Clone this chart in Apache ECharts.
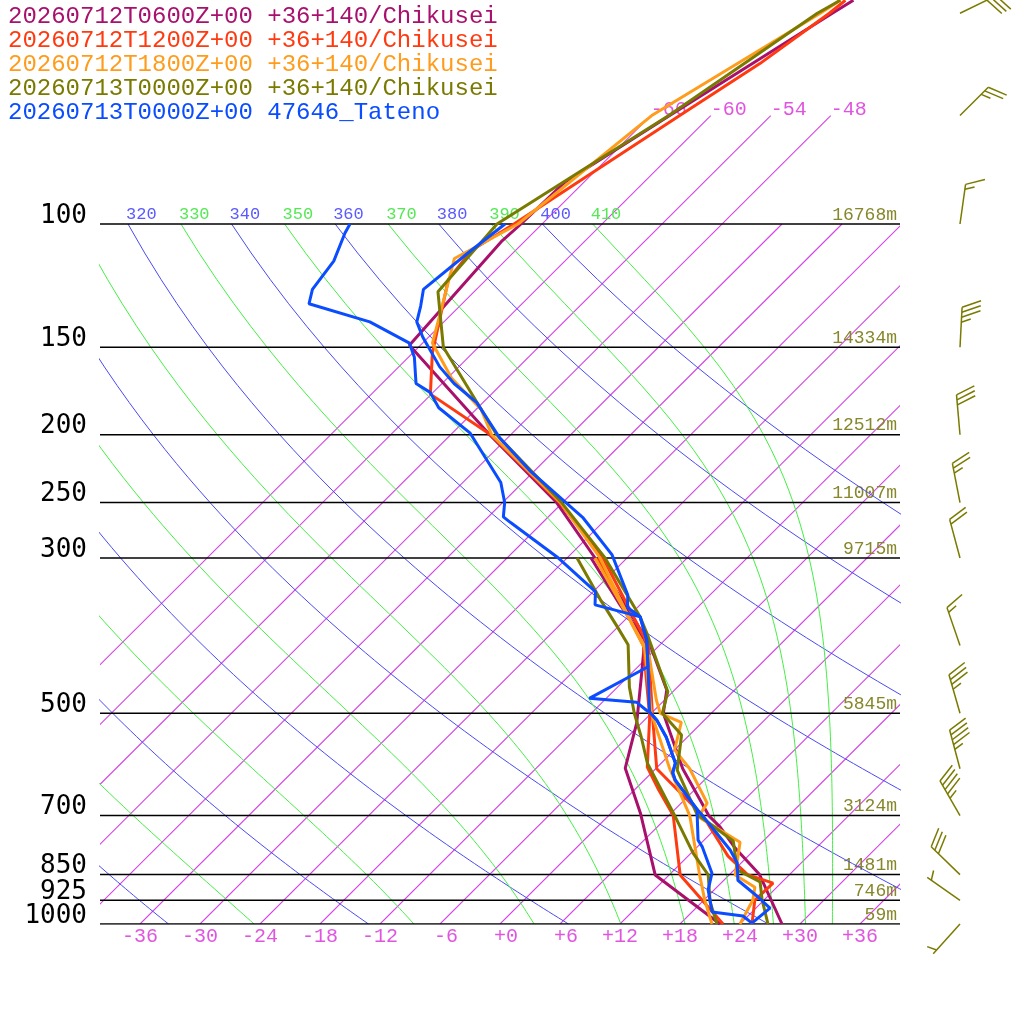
<!DOCTYPE html>
<html>
<head>
<meta charset="utf-8">
<script src="https://cdn.jsdelivr.net/npm/echarts@6/dist/echarts.min.js"></script>
<style>
html,body{margin:0;padding:0;background:#fff;}
#chart{width:1024px;height:1024px;}
</style>
</head>
<body>
<div id="chart"></div>
<script>
// legend lines and colours of the five soundings
var runNames = [
    '20260712T0600Z+00 +36+140/Chikusei',
    '20260712T1200Z+00 +36+140/Chikusei',
    '20260712T1800Z+00 +36+140/Chikusei',
    '20260713T0000Z+00 +36+140/Chikusei',
    '20260713T0000Z+00 47646_Tateno'
];
var runColors = ['#a8106c', '#ff3a10', '#ff9c1c', '#7a7a00', '#0a4cff'];

// 0600Z model: temperature / dew point (hPa, degC)
var m06P  = [1000, 850, 779, 727, 700, 600, 500, 463, 400, 350, 300, 250, 200, 149, 106, 100, 87, 70, 50, 47.9];
var m06T  = [28.2, 21.0, 15.9, 12.3, 10.0, 2.7, -4.8, -6.8, -12.9, -19.5, -27.2, -36.6, -50.1, -67.1, -68.3, -68.1, -67.9, -64.1, -58.1, -57.3];
var m06DP = [1000, 851, 694, 599, 516, 438, 393, 350, 300];
var m06D  = [22.0, 10.6, 2.9, -3.1, -6.5, -11.0, -14.0, -20.0, -27.6];

// 1200Z model
var m12P  = [1000, 925, 874, 850, 800, 700, 600, 500, 400, 300, 250, 200, 175, 153, 120, 109, 100, 70, 59, 50, 47.9];
var m12T  = [25.2, 23.1, 23.2, 19.8, 16.0, 9.4, 0.1, -5.9, -13.1, -26.4, -36.3, -50.0, -60.1, -64.0, -69.8, -70.4, -68.8, -63.1, -60.3, -58.4, -58.1];
var m12DP = [1000, 851, 699, 643, 597, 506, 400, 300];
var m12D  = [22.3, 13.1, 6.4, 2.4, -1.0, -5.8, -13.6, -26.9];

// 1800Z model
var m18P  = [1000, 925, 886, 851, 764, 703, 672, 600, 564, 515, 500, 479, 416, 376, 300, 250, 200, 184, 166, 148, 112, 100, 70, 50, 47.9];
var m18T  = [24.0, 22.9, 21.8, 18.6, 15.8, 9.1, 8.6, 3.4, 0.0, -2.1, -5.1, -6.8, -11.8, -16.5, -26.7, -36.2, -49.9, -53.5, -59.6, -65.0, -71.3, -68.4, -65.9, -59.3, -58.6];
var m18DP = [1000, 925, 850, 700, 600, 500, 400, 300];
var m18D  = [21.2, 18.1, 15.0, 8.1, 1.4, -6.0, -13.5, -27.2];

// 0000Z (13th) model
var m00P  = [1000, 924, 871, 837, 761, 697, 603, 537, 500, 466, 384, 364, 300, 250, 200, 150, 125, 100, 70, 50, 47.9];
var m00T  = [26.8, 23.8, 21.8, 18.3, 15.0, 8.7, 2.3, -0.8, -4.9, -6.5, -14.5, -16.8, -26.2, -36.1, -49.4, -63.5, -69.6, -70.5, -64.2, -59.6, -58.6];
var m00DP = [1000, 930, 851, 792, 694, 589, 541, 500, 459, 399, 376, 344, 300];
var m00D  = [21.7, 18.8, 15.9, 12.2, 6.2, -1.4, -4.6, -7.7, -10.8, -15.2, -18.1, -22.5, -29.0];

// Tateno observation
var tatP  = [997, 949, 915, 866, 818, 784, 694, 687, 623, 608, 589, 541, 511, 498, 429, 393, 364, 353, 339, 297, 263, 248, 225, 202, 180, 169, 160, 145, 138, 131, 124, 110, 100];
var tatT  = [25.1, 25.4, 23.1, 19.4, 17.6, 15.6, 8.9, 8.3, 3.1, 2.1, 1.4, -2.1, -4.8, -6.3, -11.0, -13.8, -16.8, -19.0, -20.2, -25.8, -32.4, -36.2, -42.5, -48.8, -54.6, -58.8, -61.9, -66.6, -68.7, -69.9, -71.3, -70.5, -69.7];
var tatDP = [997, 974, 961, 894, 846, 776, 759, 699, 687, 623, 608, 589, 541, 511, 498, 495, 482, 476, 429, 393, 364, 360, 350, 335, 299, 267, 262, 250, 234, 222, 199, 183, 174, 169, 155, 148, 138, 130, 124, 113, 103, 100];
var tatD  = [25.1, 23.5, 20.0, 17.4, 16.1, 12.5, 11.4, 8.8, 8.3, 3.1, 2.1, 1.4, -2.1, -4.8, -6.3, -6.8, -8.6, -13.7, -11.0, -13.8, -16.8, -18.4, -22.5, -23.8, -31.1, -39.2, -40.5, -41.8, -44.2, -46.8, -52.2, -57.9, -60.3, -62.6, -65.4, -67.3, -73.4, -81.3, -82.4, -83.1, -84.8, -85.2];

// wind barbs (direction deg, speed kt)
var windP   = [50, 70, 100, 150, 200, 250, 300, 400, 500, 600, 700, 850, 925, 1000];
var windDir = [64, 45, 8, 3, 355, 349, 345, 341, 344, 345, 330, 314, 305, 222];
var windKt  = [30, 25, 15, 35, 30, 25, 20, 15, 35, 45, 45, 30, 5, 5];

// isobars with heights
var isobarP      = [100, 150, 200, 250, 300, 500, 700, 850, 925, 1000];
var isobarLabels = ['100', '150', '200', '250', '300', '500', '700', '850', '925', '1000'];
var heightLabels = ['16768m', '14334m', '12512m', '11007m', '9715m', '5845m', '3124m', '1481m', '746m', '59m'];

// background lines
var isothermT   = [-66, -60, -54, -48, -42, -36, -30, -24, -18, -12, -6, 0, 6, 12, 18, 24, 30, 36];
var topIsoT     = [-66, -60, -54, -48];
var tempTicks   = [-36, -30, -24, -18, -12, -6, 0, 6, 12, 18, 24, 30, 36];
var tempLabels  = ['-36', '-30', '-24', '-18', '-12', '-6', '+0', '+6', '+12', '+18', '+24', '+30', '+36'];
var dryTheta    = [240, 260, 280, 300, 320, 340, 360, 380, 400];
var moistThetaE = [250, 270, 290, 310, 330, 350, 370, 390, 410];

var SKEW = 70.2;
var PTOP = 1000 / Math.pow(10, 924 / 700);

function sx(t, p) { return t + SKEW * Math.log10(1000 / p); }

function esat(t) { return 6.112 * Math.exp(17.67 * t / (t + 243.5)); }
function thetaE(t, p) {
    var e = esat(t);
    if (e > 0.5 * p) return 1e9;
    var r = 622 * e / (p - e);
    var tk = t + 273.15;
    var th = tk * Math.pow(1000 / p, 0.2854 * (1 - 0.00028 * r));
    return th * Math.exp((3.376 / tk - 0.00254) * r * (1 + 0.00081 * r));
}
function moistT(te, p) {
    var lo = -130, hi = 60;
    for (var i = 0; i < 50; i++) {
        var mid = (lo + hi) / 2;
        if (thetaE(mid, p) > te) hi = mid; else lo = mid;
    }
    return (lo + hi) / 2;
}
function dryT(th, p) { return th * Math.pow(p / 1000, 0.2857) - 273.15; }

var curveP = [];
for (var pp = 1000; pp >= 100; pp -= 10) curveP.push(pp);

function thin(data, color, width, z) {
    return {
        type: 'line', data: data, symbol: 'none', showSymbol: false, silent: true,
        animation: false, clip: true, z: z || 1,
        lineStyle: { color: color, width: width || 1, opacity: 1 }
    };
}
function trace(P, T, color) {
    return thin(P.map(function (p, i) { return [sx(T[i], p), p]; }), color, 3, 4);
}

var series = [];
// isotherms as one custom series, each clipped to the plot rect
series.push({
    type: 'custom', clip: true, silent: true, animation: false, z: 1,
    data: isothermT.map(function (t) { return [0, 500, t]; }),
    encode: { x: 0, y: 1 },
    renderItem: function (params, api) {
        var t = api.value(2);
        var top = t <= -48 ? 70 : 100;
        var a = api.coord([sx(t, 1000), 1000]);
        var b = api.coord([sx(t, top), top]);
        var cs = params.coordSys;
        return {
            type: 'line',
            shape: { x1: a[0], y1: a[1], x2: b[0], y2: b[1] },
            clipPath: { type: 'rect', shape: { x: cs.x, y: cs.y, width: cs.width, height: cs.height } },
            style: { stroke: '#d444e4', lineWidth: 1.1 }
        };
    }
});
dryTheta.forEach(function (th) {
    series.push(thin(curveP.map(function (p) { return [sx(dryT(th, p), p), p]; }), '#4a4af0', 1, 1));
});
moistThetaE.forEach(function (te) {
    series.push(thin(curveP.map(function (p) { return [sx(moistT(te, p), p), p]; }), '#44ee44', 1, 1));
});
isobarP.forEach(function (p) {
    series.push(thin([[-40, p], [40, p]], '#000', 1.5, 2));
});

var runs = [
    [m06P, m06T, m06DP, m06D],
    [m12P, m12T, m12DP, m12D],
    [m18P, m18T, m18DP, m18D],
    [m00P, m00T, m00DP, m00D],
    [tatP, tatT, tatDP, tatD]
];
runs.forEach(function (r, i) {
    series.push(trace(r[2], r[3], runColors[i]));
    series.push(trace(r[0], r[1], runColors[i]));
});

// wind barbs to the right of the diagram
series.push({
    type: 'custom', clip: false, silent: true, animation: false, z: 5,
    data: windP.map(function (p, i) { return [40, p, windDir[i], windKt[i]]; }),
    encode: { x: 0, y: 1 },
    renderItem: function (params, api) {
        var pt = api.coord([api.value(0), api.value(1)]);
        var bx = pt[0] + 60, by = pt[1];
        var a = api.value(2) * Math.PI / 180;
        var ux = Math.sin(a), uy = -Math.cos(a);
        var len = 40, gap = 5;
        var tx = bx + ux * len, ty = by + uy * len;
        var ang = 68 * Math.PI / 180;
        var vx = ux * Math.cos(ang) - uy * Math.sin(ang);
        var vy = ux * Math.sin(ang) + uy * Math.cos(ang);
        var st = { stroke: '#7a7a00', lineWidth: 1.5 };
        var kids = [{ type: 'line', shape: { x1: bx, y1: by, x2: tx, y2: ty }, style: st }];
        var kt = Math.round(api.value(3) / 5) * 5;
        var full = Math.floor(kt / 10), half = kt % 10 >= 5;
        var pos = (full === 0 && half) ? gap : 0;
        for (var i = 0; i < full; i++) {
            var x0 = tx - ux * pos, y0 = ty - uy * pos;
            kids.push({ type: 'line', shape: { x1: x0, y1: y0, x2: x0 + vx * 20, y2: y0 + vy * 20 }, style: st });
            pos += gap;
        }
        if (half) {
            var hx = tx - ux * pos, hy = ty - uy * pos;
            kids.push({ type: 'line', shape: { x1: hx, y1: hy, x2: hx + vx * 10, y2: hy + vy * 10 }, style: st });
        }
        return { type: 'group', children: kids };
    }
});

var chart = echarts.init(document.getElementById('chart'));
chart.setOption({
    animation: false,
    backgroundColor: '#fff',
    grid: { left: 100, right: 124, top: 0, bottom: 100 },
    xAxis: { type: 'value', min: -40, max: 40, show: false },
    yAxis: { type: 'log', logBase: 10, min: PTOP, max: 1000, inverse: true, show: false },
    series: series
});

// text labels placed through the axes
function px(t, p) { return chart.convertToPixel({ xAxisIndex: 0, yAxisIndex: 0 }, [sx(t, p), p]); }
function txt(x, y, s, color, font, align, valign) {
    return {
        type: 'text', x: x, y: y, z: 1, silent: true,
        style: { text: s, fill: color, font: font, align: align, verticalAlign: valign,
                 textAlign: align, textVerticalAlign: valign }
    };
}
var mono = '"Liberation Mono", monospace';
var g = [];
runNames.forEach(function (s, i) {
    g.push(txt(8, 17 + 24 * i, s, runColors[i], '24px ' + mono, 'left', 'middle'));
});
isobarP.forEach(function (p, i) {
    var y = chart.convertToPixel({ yAxisIndex: 0 }, p);
    g.push(txt(87, y - 8, isobarLabels[i], '#000', '26px "DejaVu Sans Mono", monospace', 'right', 'middle'));
    g.push(txt(897, y - 9, heightLabels[i], '#86862a', '18px ' + mono, 'right', 'middle'));
});
tempTicks.forEach(function (t, i) {
    var q = px(t, 1000);
    g.push(txt(q[0] + 18, 937, tempLabels[i], '#e055e0', '20px ' + mono, 'right', 'middle'));
});
topIsoT.forEach(function (t) {
    var q = px(t, 70);
    g.push(txt(q[0], q[1] - 6, String(t), '#e055e0', '20px ' + mono, 'left', 'middle'));
});
dryTheta.forEach(function (th) {
    var q = px(dryT(th, 100), 100);
    if (q[0] >= 100) g.push(txt(q[0] - 2, q[1] - 10, String(th), '#5a5aff', '17px ' + mono, 'left', 'middle'));
});
moistThetaE.forEach(function (te) {
    var q = px(moistT(te, 100), 100);
    if (q[0] >= 100) g.push(txt(q[0] - 2, q[1] - 10, String(te), '#55e855', '17px ' + mono, 'left', 'middle'));
});
chart.setOption({ graphic: g });
</script>
</body>
</html>
